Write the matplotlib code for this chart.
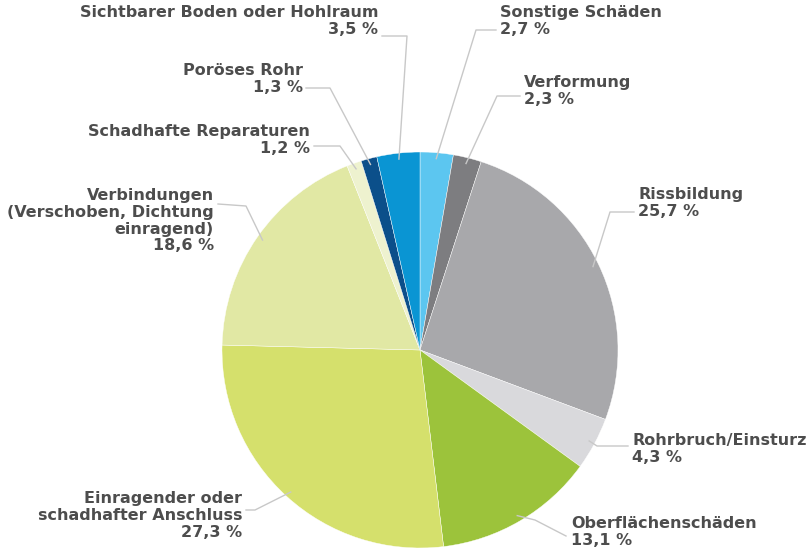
import numpy as np
import matplotlib
matplotlib.use("Agg")
import matplotlib.pyplot as plt

# data, clockwise from 12 o'clock
labels = [
    "Sonstige Schäden",
    "Verformung",
    "Rissbildung",
    "Rohrbruch/Einsturz",
    "Oberflächenschäden",
    "Einragender oder\nschadhafter Anschluss",
    "Verbindungen\n(Verschoben, Dichtung\neinragend)",
    "Schadhafte Reparaturen",
    "Poröses Rohr",
    "Sichtbarer Boden oder Hohlraum",
]
values = [2.7, 2.3, 25.7, 4.3, 13.1, 27.3, 18.6, 1.2, 1.3, 3.5]
colors = [
    "#5cc6f0", "#7d7d80", "#a8a8ab", "#d9d9dc", "#9cc33b",
    "#d5e06c", "#e1e8a4", "#eef2cf", "#0b4f8a", "#0a95d3",
]

W, H = 808, 559
CX, CY, R = 420, 350, 198  # pie centre/radius in image pixels (y down)

# label layout: (x, y centre of first line, ha), elbow points of leader line (image px)
label_pos = [
    (500, 14, "left"), (524, 84, "left"), (638, 196, "left"),
    (632, 442, "left"), (571, 525, "left"), (242, 500, "right"),
    (214, 197, "right"), (310, 133, "right"), (303, 72, "right"),
    (378, 14, "right"),
]
elbows = [
    [(476, 30), (496, 30)], [(497, 96), (520, 96)], [(610, 212), (634, 212)],
    [(597, 446), (628, 446)], [(535, 520), (566, 536)], [(255, 510), (246, 510)],
    [(246, 206), (218, 204)], [(340, 146), (314, 146)], [(330, 88), (306, 88)],
    [(407, 36), (382, 36)],
]

TEXT = "#4d4d4d"
LINE = "#c8c8c8"

fig = plt.figure(figsize=(W / 100, H / 100), dpi=100)
ax = fig.add_axes([0, 0, 1, 1])


def fy(y):
    return H - y


ax.pie(values, colors=colors, startangle=90, counterclock=False,
       center=(CX, fy(CY)), radius=R, frame=True,
       wedgeprops=dict(linewidth=0.3, edgecolor="white"))
ax.set_xlim(0, W)
ax.set_ylim(0, H)
ax.set_aspect("equal")
ax.axis("off")

cum = np.cumsum([0] + values[:-1])
for i, (lab, v) in enumerate(zip(labels, values)):
    mid = (cum[i] + v / 2) / 100 * 2 * np.pi
    ex = CX + R * 0.97 * np.sin(mid)
    ey = CY - R * 0.97 * np.cos(mid)
    pts = [(ex, ey)] + elbows[i]
    ax.plot([p[0] for p in pts], [fy(p[1]) for p in pts], color=LINE, lw=1.0, zorder=1)

    x, y, ha = label_pos[i]
    txt = lab + "\n" + f"{v:.1f}".replace(".", ",") + " %"
    ax.text(x, fy(y - 9), txt, ha=ha, va="top", color=TEXT,
            fontsize=11.5, family="DejaVu Sans",
            fontweight="bold", linespacing=1.15, multialignment=ha)

fig.savefig("out.png", dpi=100)
